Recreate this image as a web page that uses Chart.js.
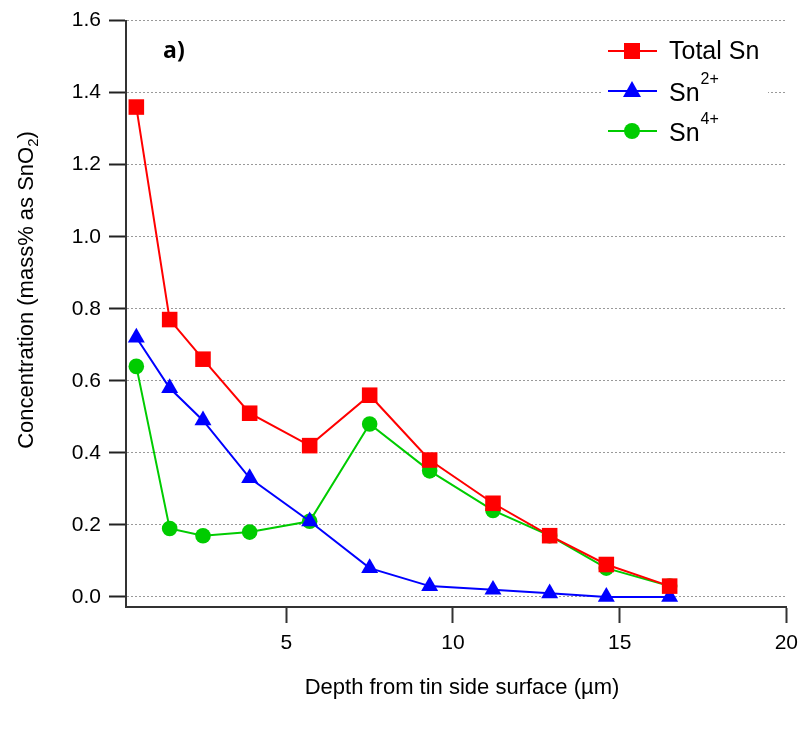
<!DOCTYPE html>
<html>
<head>
<meta charset="utf-8">
<script src="https://cdn.jsdelivr.net/npm/chart.js"></script>
<style>
  html, body { margin: 0; padding: 0; background: #fff; }
  #wrap { width: 806px; height: 731px; }
</style>
</head>
<body>
<div id="wrap"><canvas id="myChart" width="806" height="731"></canvas></div>
<script>
// depth (um) and concentrations (mass% as SnO2)
const depth = [0.5, 1.5, 2.5, 3.9, 5.7, 7.5, 9.3, 11.2, 12.9, 14.6, 16.5];
const totalSn = [1.36, 0.77, 0.66, 0.51, 0.42, 0.56, 0.38, 0.26, 0.17, 0.09, 0.03];
const sn2 = [0.72, 0.58, 0.49, 0.33, 0.21, 0.08, 0.03, 0.02, 0.01, 0.0, 0.0];
const sn4 = [0.64, 0.19, 0.17, 0.18, 0.21, 0.48, 0.35, 0.24, 0.17, 0.08, 0.03];

const xTicks = [5, 10, 15, 20];
const yTicks = [0, 0.2, 0.4, 0.6, 0.8, 1.0, 1.2, 1.4, 1.6];

const FONT = "'Liberation Sans', Arial, sans-serif";
Chart.defaults.font.family = FONT;

function pts(ys) {
    return depth.map(function (d, i) { return { x: d, y: ys[i] }; });
}

// legend entries: label, superscript, colour, marker
const legendItems = [
    { text: 'Total Sn', sup: '', color: '#ff0000', style: 'rect' },
    { text: 'Sn', sup: '2+', color: '#0000ff', style: 'triangle' },
    { text: 'Sn', sup: '4+', color: '#00cc00', style: 'circle' }
];

function marker(ctx, style, x, y, color) {
    ctx.fillStyle = color;
    ctx.beginPath();
    if (style === 'rect') {
        ctx.rect(x - 8, y - 8, 16, 16);
    } else if (style === 'triangle') {
        ctx.moveTo(x, y - 10);
        ctx.lineTo(x + 9, y + 6);
        ctx.lineTo(x - 9, y + 6);
        ctx.closePath();
    } else {
        ctx.arc(x, y, 8, 0, Math.PI * 2);
    }
    ctx.fill();
}

const extras = {
    id: 'extras',
    afterDraw: function (chart) {
        const ctx = chart.ctx;
        ctx.save();

        // legend
        ctx.fillStyle = '#fff';
        ctx.fillRect(603, 28, 165, 125);
        const ly = [51, 91, 131];
        legendItems.forEach(function (it, i) {
            ctx.strokeStyle = it.color;
            ctx.lineWidth = 2;
            ctx.beginPath();
            ctx.moveTo(608, ly[i]);
            ctx.lineTo(657, ly[i]);
            ctx.stroke();
            marker(ctx, it.style, 632, ly[i], it.color);
            ctx.fillStyle = '#000';
            ctx.textAlign = 'left';
            ctx.textBaseline = 'alphabetic';
            ctx.font = '25px ' + FONT;
            const base = ly[i] + (i === 0 ? 7.5 : 9.5);
            ctx.fillText(it.text, 669, base);
            if (it.sup) {
                const w = ctx.measureText(it.text).width;
                ctx.font = '16px ' + FONT;
                ctx.fillText(it.sup, 669 + w + 1, base - 17);
            }
        });

        // panel label
        ctx.fillStyle = '#000';
        ctx.font = "bold 23px 'Open Sans', " + FONT;
        ctx.textAlign = 'left';
        ctx.textBaseline = 'alphabetic';
        ctx.fillText('a)', 163, 58);

        // x title
        ctx.font = '22px ' + FONT;
        ctx.textAlign = 'center';
        ctx.textBaseline = 'middle';
        ctx.fillText('Depth from tin side surface (\u00b5m)', 462, 688);

        // y title with subscript
        ctx.translate(25, 290);
        ctx.rotate(-Math.PI / 2);
        const p1 = 'Concentration (mass% as SnO';
        const p2 = '2';
        const p3 = ')';
        ctx.font = '22px ' + FONT;
        const w1 = ctx.measureText(p1).width;
        const w3 = ctx.measureText(p3).width;
        ctx.font = '15px ' + FONT;
        const w2 = ctx.measureText(p2).width;
        let sx = -(w1 + w2 + w3) / 2;
        ctx.textAlign = 'left';
        ctx.textBaseline = 'alphabetic';
        ctx.font = '22px ' + FONT;
        ctx.fillText(p1, sx, 8);
        ctx.font = '15px ' + FONT;
        ctx.fillText(p2, sx + w1, 13);
        ctx.font = '22px ' + FONT;
        ctx.fillText(p3, sx + w1 + w2, 8);

        ctx.restore();
    }
};

const data = {
    datasets: [{
        label: 'Total Sn',
        data: pts(totalSn),
        borderColor: '#ff0000',
        backgroundColor: '#ff0000',
        borderWidth: 2,
        pointStyle: 'rect',
        pointRadius: 11,
        pointBorderWidth: 0,
    }, {
        label: 'Sn2+',
        data: pts(sn2),
        borderColor: '#0000ff',
        backgroundColor: '#0000ff',
        borderWidth: 2,
        pointStyle: 'triangle',
        pointRadius: 9.8,
        pointBorderWidth: 0,
    }, {
        label: 'Sn4+',
        data: pts(sn4),
        borderColor: '#00cc00',
        backgroundColor: '#00cc00',
        borderWidth: 2,
        pointStyle: 'circle',
        pointRadius: 7.8,
        pointBorderWidth: 0,
    }]
};

const config = {
    type: 'line',
    data: data,
    plugins: [extras],
    options: {
        responsive: false,
        animation: false,
        devicePixelRatio: 1,
        layout: { padding: { left: 0, top: 18, right: 18, bottom: 0 } },
        elements: { line: { tension: 0 } },
        clip: false,
        plugins: {
            legend: { display: false },
            tooltip: { enabled: false }
        },
        scales: {
            x: {
                type: 'linear',
                min: 0.19,
                max: 20,
                afterBuildTicks: function (s) { s.ticks = xTicks.map(function (v) { return { value: v }; }); },
                afterFit: function (s) { s.height = 124; },
                ticks: {
                    autoSkip: false,
                    maxRotation: 0,
                    padding: 8,
                    color: '#000',
                    font: { size: 21 }
                },
                grid: {
                    drawOnChartArea: false,
                    drawTicks: true,
                    tickLength: 16,
                    tickColor: '#333',
                    tickWidth: 2
                },
                border: { color: '#333', width: 2 }
            },
            y: {
                min: -0.028,
                max: 1.6,
                afterBuildTicks: function (s) { s.ticks = yTicks.map(function (v) { return { value: v }; }); },
                afterFit: function (s) { s.width = 126; },
                ticks: {
                    padding: 8,
                    color: '#000',
                    font: { size: 21 },
                    callback: function (v) { return v.toFixed(1); }
                },
                grid: {
                    color: '#999',
                    lineWidth: 1,
                    drawTicks: true,
                    tickLength: 17,
                    tickColor: '#222',
                    tickWidth: 2,
                    tickBorderDash: []
                },
                border: { color: '#333', width: 2, dash: [2, 2] }
            }
        }
    }
};

const ctx = document.getElementById('myChart').getContext('2d');
const myChart = new Chart(ctx, config);
</script>
</body>
</html>
